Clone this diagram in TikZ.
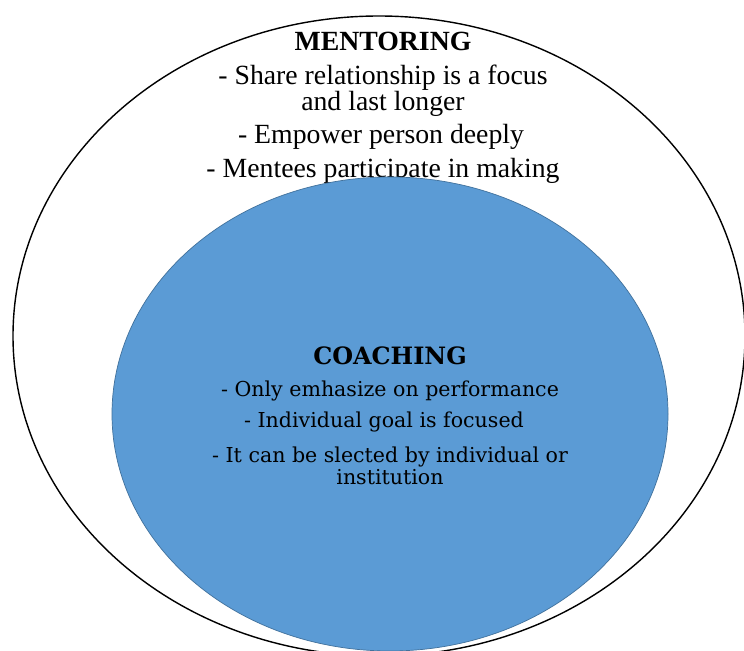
\documentclass[tikz,border=0pt]{standalone}
\usepackage{fontspec}
\setmainfont{Liberation Serif}
\newfontfamily\coachfont{DejaVu Serif}

\definecolor{coachblue}{HTML}{5B9BD5}
\definecolor{coachedge}{HTML}{41719C}

\tikzset{
  mentortext/.style = {align=center, font=\fontsize{15.8}{14.6}\selectfont, inner sep=0pt},
  coachtext/.style = {align=center, font=\coachfont\fontsize{11.7}{12.6}\selectfont, inner sep=0pt}
}

\begin{document}
\begin{tikzpicture}[x=0.02cm, y=0.02cm]

\useasboundingbox (0,0) rectangle (744,650);
\fill [white] (0,0) rectangle (744,650);

\draw [thick] (379,314) ellipse (366 and 320);

\node [mentortext, font=\bfseries\fontsize{15.8}{14.6}\selectfont] (mentoring) at (383,609) {MENTORING};
\node [mentortext] (share) at (383,559) {- Share relationship is a focus\\and last longer};
\node [mentortext] (empower) at (381,513) {- Empower person deeply};
\node [mentortext] (mentees) at (383,479) {- Mentees participate in making};

\draw [fill=coachblue, draw=coachedge, thin] (390,236) ellipse (278 and 237);

\node [coachtext, font=\coachfont\bfseries\fontsize{13.6}{12.6}\selectfont] (coaching) at (390,294) {COACHING};
\node [coachtext] (perform) at (390,259) {- Only emhasize on performance};
\node [coachtext] (goal) at (384,228) {- Individual goal is focused};
\node [coachtext] (select) at (390,184) {- It can be slected by individual or\\institution};

\end{tikzpicture}
\end{document}
